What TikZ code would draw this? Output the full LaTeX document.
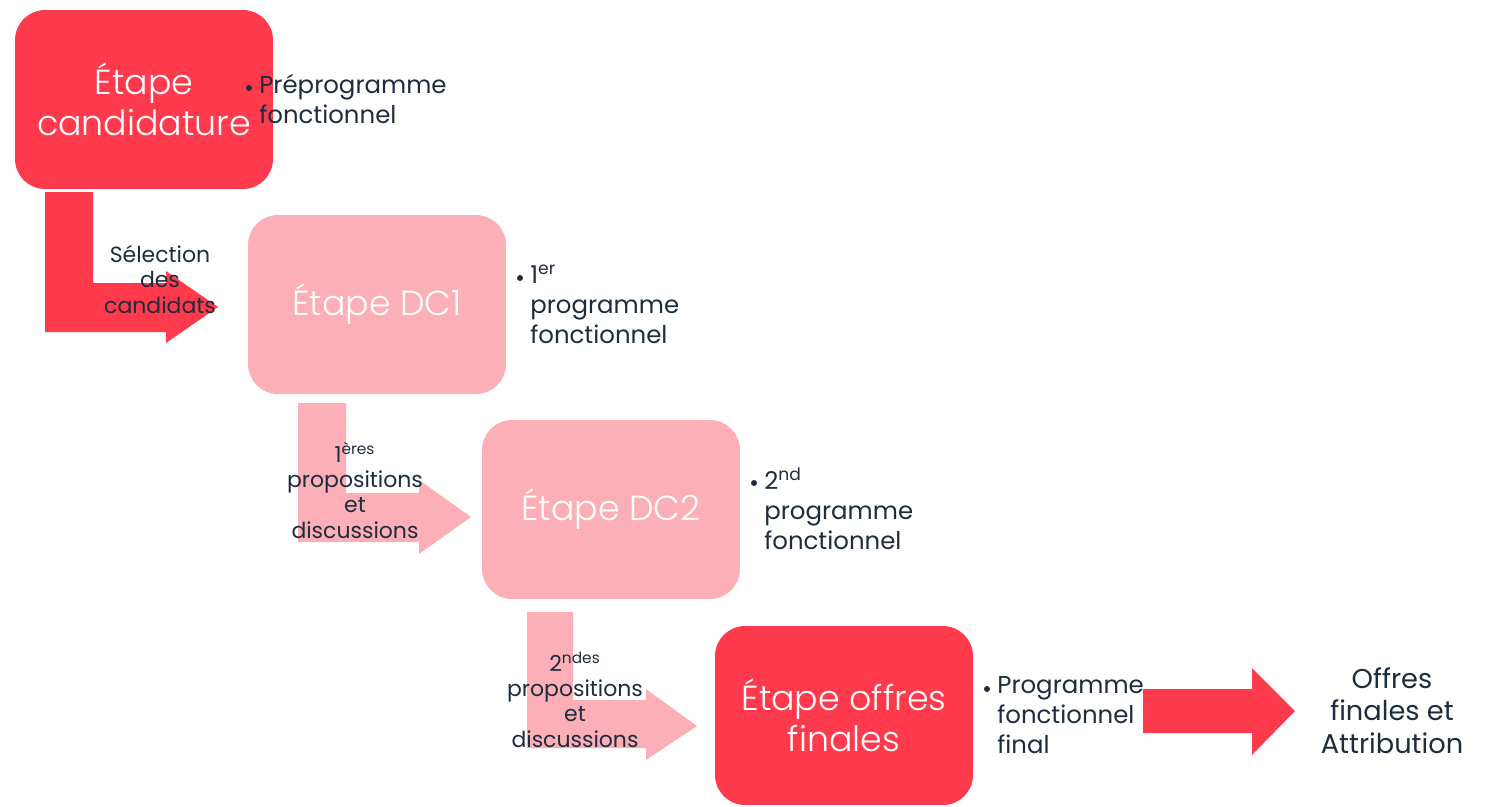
\documentclass[tikz,border=0pt]{standalone}
\usepackage{fontspec}
\setmainfont{Poppins}
\newfontfamily\lightfont{Poppins Light}
\definecolor{redbox}{RGB}{255,58,76}
\definecolor{pinkbox}{RGB}{252,175,182}
\definecolor{ink}{RGB}{30,44,62}
\begin{document}
\begin{tikzpicture}[x=0.02cm,y=-0.02cm,
  stagebox/.style={rounded corners=0.6cm, minimum width=5.16cm, minimum height=3.58cm, inner sep=0pt, align=center, text=white, font=\lightfont\fontsize{19.8}{23.3}\selectfont},
  redstage/.style={stagebox, fill=redbox},
  pinkstage/.style={stagebox, fill=pinkbox},
  flowlabel/.style={anchor=base, align=center, inner sep=0pt, text=ink, font=\fontsize{12.5}{14.4}\selectfont},
  bullettext/.style={anchor=base west, align=left, inner sep=0pt, text=ink, font=\fontsize{13.9}{17}\selectfont},
  bulletdot/.style={circle, fill=ink, inner sep=0pt, minimum size=3.4pt},
  redarrow/.style={fill=redbox},
  pinkarrow/.style={fill=pinkbox}]
\useasboundingbox (0,0) rectangle (1491,806);

% stages
\node[redstage]  (cand) at (144,99.5)  {Étape\\candidature};
\node[pinkstage] (dc1)  at (377,304.5) {Étape DC1};
\node[pinkstage] (dc2)  at (611,509.5) {Étape DC2};
\node[redstage]  (fin)  at (844,715.5) {Étape offres\\finales};

% bent arrows
\fill[redarrow] (45,192) -- (93,192) -- (93,283) -- (166,283) -- (166,271) -- (218,307) -- (166,343) -- (166,332) -- (45,332) -- cycle;
\fill[pinkarrow] (298,403) -- (346,403) -- (346,493) -- (419,493) -- (419,480) -- (471,517) -- (419,554) -- (419,542) -- (298,542) -- cycle;
\fill[pinkarrow] (527,612) -- (573,612) -- (573,700) -- (646,700) -- (646,689) -- (697,726) -- (646,760) -- (646,748) -- (527,748) -- cycle;
\fill[redarrow] (1143,689) -- (1252,689) -- (1252,668) -- (1295,711) -- (1252,755) -- (1252,733) -- (1143,733) -- cycle;

% arrow labels (anchored at the baseline of the last line)
\node[flowlabel] (sel) at (160,313) {Sélection\\des\\candidats};
\node[flowlabel] (prop1) at (355,538) {1\textsuperscript{ères}\\propositions\\et\\discussions};
\node[flowlabel] (prop2) at (575,747) {2\textsuperscript{ndes}\\propositions\\et\\discussions};

% bullets
\node[bulletdot] (d1) at (249,88) {};
\node[bullettext] (b1) at (259,123) {Préprogramme\\fonctionnel};
\node[bulletdot] (d2) at (520,278) {};
\node[bullettext] (b2) at (530,343) {1\textsuperscript{er}\\programme\\fonctionnel};
\node[bulletdot] (d3) at (754,483) {};
\node[bullettext] (b3) at (764,549) {2\textsuperscript{nd}\\programme\\fonctionnel};
\node[bulletdot] (d4) at (987,689) {};
\node[bullettext] (b4) at (997,753) {Programme\\fonctionnel\\final};

% final
\node[anchor=base, align=center, inner sep=0pt, text=ink, font=\fontsize{15.5}{18.4}\selectfont] (offres) at (1392,753) {Offres\\finales et\\Attribution};
\end{tikzpicture}
\end{document}
